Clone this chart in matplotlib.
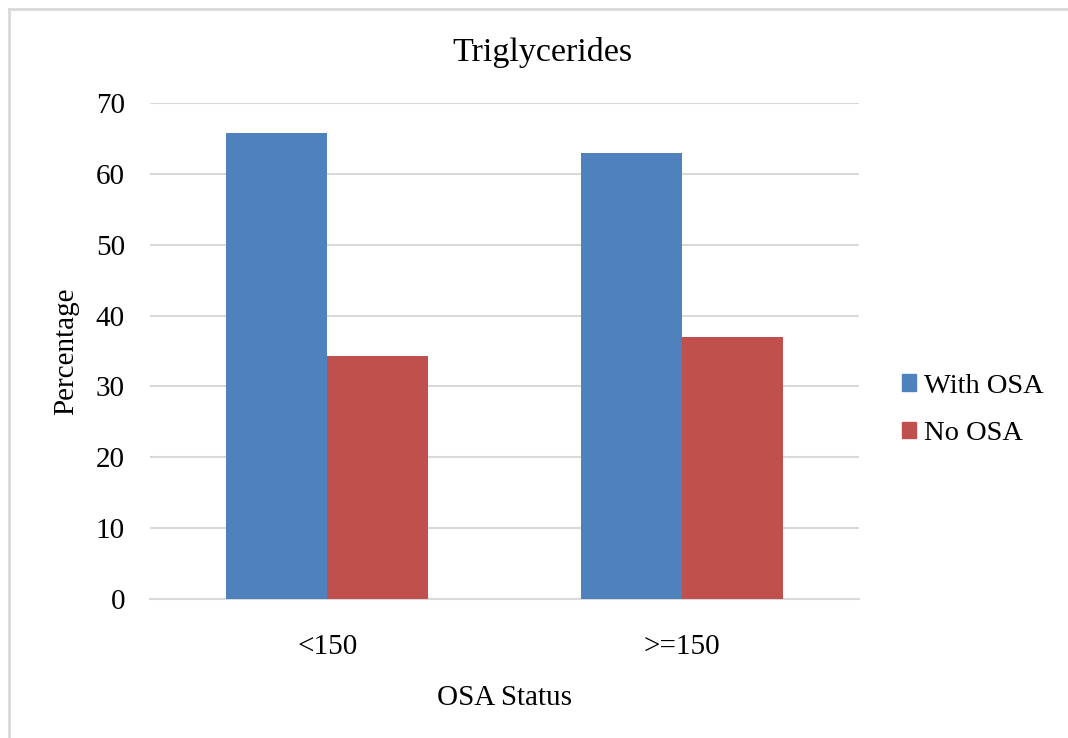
import numpy as np
import matplotlib
matplotlib.use("Agg")
from matplotlib import pyplot as plt
from matplotlib.lines import Line2D
from matplotlib.patches import Patch

categories = ['<150', '>=150']
with_osa = [65.7, 63.0]
no_osa = [34.3, 37.0]
series_names = ['With OSA', 'No OSA']

plt.rcParams['font.family'] = ['Liberation Serif', 'DejaVu Serif']

blue = '#4F81BD'
red = '#C0504D'
grid_c = '#D9D9D9'

fig = plt.figure(figsize=(10.68, 7.38), dpi=100)
ax = fig.add_axes([150 / 1068, 1 - 599 / 738, 709 / 1068, 496 / 738])

x = np.arange(len(categories))
w = 0.285
ax.bar(x - w / 2, with_osa, w, color=blue, zorder=3)
ax.bar(x + w / 2, no_osa, w, color=red, zorder=3)

ax.set_xlim(-0.5, 1.5)
ax.set_ylim(0, 70)
ax.set_yticks(range(0, 71, 10))
ax.set_xticks(x)
ax.set_xticklabels(categories)
ax.yaxis.grid(True, color=grid_c, linewidth=1.5, zorder=0)
for s in ['top', 'right', 'left']:
    ax.spines[s].set_visible(False)
ax.spines['bottom'].set_color(grid_c)
ax.spines['bottom'].set_linewidth(1.5)
ax.tick_params(axis='both', length=0, labelsize=21)
ax.tick_params(axis='y', pad=18)
ax.tick_params(axis='x', pad=25)

ax.set_xlabel('OSA Status', fontsize=21, labelpad=18)
ax.set_ylabel('Percentage', fontsize=21, labelpad=12)
fig.text(542 / 1068, 1 - 52 / 738, 'Triglycerides', fontsize=24.5,
         ha='center', va='center')

handles = [Patch(color=blue), Patch(color=red)]
fig.legend(handles, series_names, loc='center left',
           bbox_to_anchor=(876 / 1068, 1 - 410 / 738), frameon=False,
           fontsize=20.5, handlelength=0.5, handleheight=0.5,
           handletextpad=0.3, labelspacing=0.8)

# chart border (only top and left edges visible)
fig.add_artist(Line2D([9 / 1068, 1], [1 - 9 / 738, 1 - 9 / 738],
                      transform=fig.transFigure, color=grid_c, linewidth=2))
fig.add_artist(Line2D([9 / 1068, 9 / 1068], [0, 1 - 9 / 738],
                      transform=fig.transFigure, color=grid_c, linewidth=2))

fig.savefig('out.png', dpi=100)
